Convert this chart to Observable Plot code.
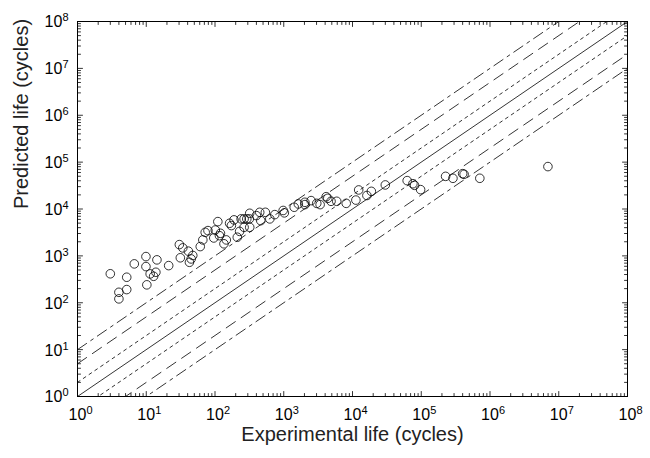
<!DOCTYPE html>
<html><head><meta charset="utf-8">
<script src="https://cdn.jsdelivr.net/npm/d3@7"></script>
<script src="https://cdn.jsdelivr.net/npm/@observablehq/plot@0.6"></script>
<style>
body{margin:0;background:#fff;}
svg{font-family:"Liberation Sans",Arial,Helvetica,sans-serif;}
</style>
</head><body><div id="chart"></div>
<script>
// Experimental life (cycles)
const experimental = [3.0,4.0,4.0,5.2,5.2,6.7,9.9,9.9,10.2,11.4,
  12.8,13.8,14.3,21.2,30.3,31.3,34,41,42.5,45,
  47.5,61,66.5,72,79,96,101,110,116,120,
  135,146,163,173,189,211,228,240,265,290,
  316,265,320,320,400,447,463,540,627,741,
  980,1020,1420,1630,2030,2030,2500,3020,3380,4140,
  4370,4870,5900,8100,11200,12300,16200,18800,30000,62400,
  75600,80000,97800,226000,289000,400000,420000,711000,6960000];
// Predicted life (cycles)
const predicted = [415,167,121,350,191,675,966,591,241,413,
  367,447,822,620,1740,910,1480,1260,730,860,
  1020,1580,2190,3180,3460,2410,3560,5380,2700,3030,
  1810,2190,4960,4430,5860,2500,3330,6150,6150,6150,
  6150,4070,8100,4070,7230,8500,5640,8500,6150,7590,
  9300,8270,10900,12800,13900,12400,15100,13200,12400,18300,
  16900,14600,14600,13200,15500,25500,19400,23800,32600,40300,
  34600,32000,25900,49700,45200,56700,55000,45200,80300];
// scatter-band factors (1 = perfect agreement)
const bandFactors = [1, 2, 5, 10];
const bandDash = ["none", "3,4", "11,7", "11,5,3,5"];
// axis decades and tick labels
const decades = [0,1,2,3,4,5,6,7,8];
const tickLabels = ["10^0","10^1","10^2","10^3","10^4","10^5","10^6","10^7","10^8"];
const majorTicks = decades.map(k => 10 ** k);
const minorTicks = decades.slice(0, -1).flatMap(k => [2,3,4,5,6,7,8,9].map(m => m * 10 ** k));
const domain = [majorTicks[0], majorTicks[majorTicks.length - 1]];
const labelOf = d => tickLabels[decades.indexOf(Math.round(Math.log10(d)))];

const points = experimental.map((x, i) => ({x, y: predicted[i]}));
const bandLines = [];
bandFactors.forEach((f, j) => {
  const sides = f === 1 ? [1] : [f, 1 / f];
  sides.forEach((s, si) => {
    domain.forEach(x => bandLines.push({x, y: x * s, id: j + "_" + si}));
  });
});

const tickShape = {draw(context, l) { context.moveTo(0, 0); context.lineTo(0, -l); }};
const tickMarks = (data, len, side) => {
  const o = {shape: tickShape, length: len, anchor: "start", stroke: "black", strokeWidth: 0.8};
  if (side === "bottom") return Plot.vector(data, {...o, x: d => d, frameAnchor: "bottom", rotate: 0});
  if (side === "top") return Plot.vector(data, {...o, x: d => d, frameAnchor: "top", rotate: 180});
  if (side === "left") return Plot.vector(data, {...o, y: d => d, frameAnchor: "left", rotate: 90});
  return Plot.vector(data, {...o, y: d => d, frameAnchor: "right", rotate: -90});
};

const lineMarks = bandFactors.map((f, j) =>
  Plot.line(bandLines.filter(d => d.id.startsWith(j + "_")), {
    x: "x", y: "y", z: "id", stroke: "black", strokeWidth: 0.8,
    strokeDasharray: bandDash[j] === "none" ? null : bandDash[j], clip: true
  })
);

const chart = Plot.plot({
  width: 650, height: 458,
  marginLeft: 77, marginRight: 23, marginTop: 21, marginBottom: 62,
  style: {fontFamily: '"Liberation Sans", Arial, sans-serif', background: "#fff", color: "black"},
  x: {type: "log", domain},
  y: {type: "log", domain},
  marks: [
    Plot.axisX({ticks: majorTicks, tickSize: 0, tickPadding: 12, tickFormat: labelOf, label: null, fontSize: 16}),
    Plot.axisY({ticks: majorTicks, tickSize: 0, tickPadding: 9, tickFormat: labelOf, label: null, fontSize: 16}),
    ...lineMarks,
    Plot.dot(points, {x: "x", y: "y", r: 4.3, stroke: "black", strokeWidth: 0.8, fill: "none"}),
    ...["bottom","top","left","right"].flatMap(s => [tickMarks(majorTicks, 5, s), tickMarks(minorTicks, 3, s)]),
    Plot.frame({stroke: "black", strokeWidth: 1}),
    Plot.text(["Experimental life (cycles)"], {frameAnchor: "bottom", dy: 44, fontSize: 20, fill: "#222"}),
    Plot.text(["Predicted life (cycles)"], {frameAnchor: "left", dx: -56, rotate: -90, fontSize: 20, fill: "#222"})
  ]
});
document.getElementById("chart").appendChild(chart);

// render "10^n" tick labels with a raised exponent
const svg = d3.select(chart);
svg.selectAll('g[aria-label="x-axis tick label"] text, g[aria-label="y-axis tick label"] text').each(function() {
  const t = d3.select(this);
  const s = t.text();
  const [base, exp] = s.split("^");
  t.text(null);
  t.append("tspan").text(base);
  t.append("tspan").attr("dy", "-0.55em").attr("font-size", "11px").text(exp);
});
svg.selectAll('g[aria-label="x-axis tick label"] text').each(function() {
  const t = d3.select(this);
  const w = this.querySelector("tspan").getComputedTextLength();
  t.attr("text-anchor", "start").attr("dx", -w / 2);
});
svg.selectAll('g[aria-label="y-axis tick label"] text').attr("dy", "0.05em");
</script>
</body></html>
